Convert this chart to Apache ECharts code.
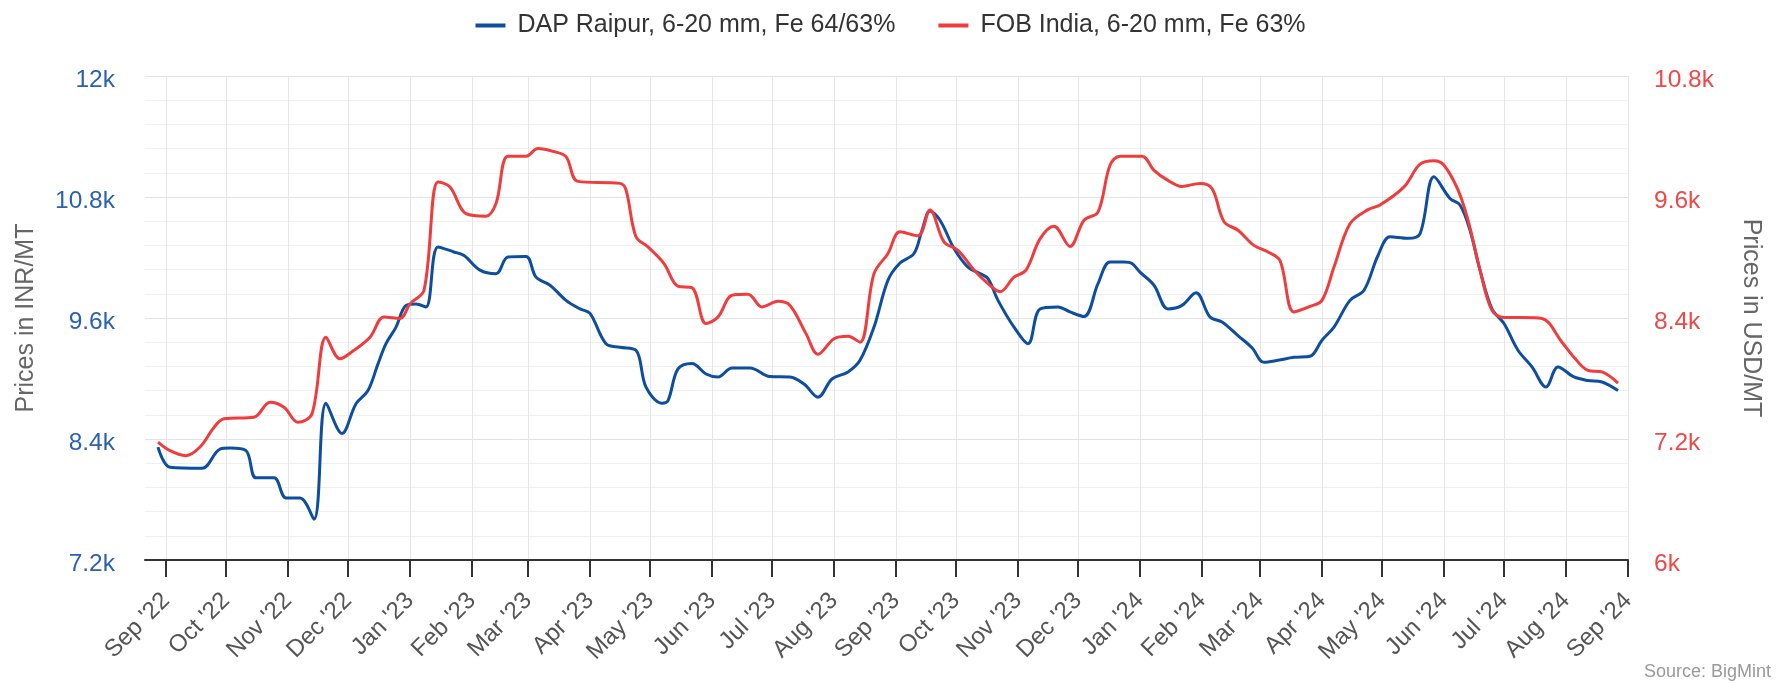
<!DOCTYPE html>
<html>
<head>
<meta charset="utf-8">
<title>DAP Raipur vs FOB India</title>
<script src="https://cdn.jsdelivr.net/npm/echarts@6/dist/echarts.min.js"></script>
<style>
  html, body { margin: 0; padding: 0; background: #fff; }
  #chart { width: 1781px; height: 684px; }
</style>
</head>
<body>
<div id="chart"></div>
<script>
// DAP Raipur, INR/MT (left axis)
const dapDates = ['2022-08-28','2022-09-03','2022-09-19','2022-09-28','2022-10-03','2022-10-11','2022-10-16','2022-10-25','2022-10-31',
  '2022-11-07','2022-11-14','2022-11-20','2022-11-28','2022-12-05','2022-12-11','2022-12-16','2022-12-20','2022-12-25','2022-12-30',
  '2023-01-04','2023-01-09','2023-01-15','2023-01-23','2023-01-28','2023-02-05','2023-02-13','2023-02-19','2023-02-28',
  '2023-03-05','2023-03-12','2023-03-20','2023-03-27','2023-04-01','2023-04-09','2023-04-16','2023-04-24','2023-04-29',
  '2023-05-07','2023-05-10','2023-05-15','2023-05-22','2023-05-29','2023-06-04','2023-06-11','2023-06-20','2023-06-30',
  '2023-07-10','2023-07-17','2023-07-24','2023-07-31','2023-08-08','2023-08-14','2023-08-21','2023-08-28',
  '2023-09-03','2023-09-10','2023-09-14','2023-09-18','2023-09-23','2023-09-30','2023-10-07','2023-10-13','2023-10-17','2023-10-22','2023-10-30',
  '2023-11-06','2023-11-12','2023-11-21','2023-11-27','2023-12-04','2023-12-11','2023-12-17','2023-12-24','2023-12-28',
  '2024-01-01','2024-01-08','2024-01-15','2024-01-22','2024-01-29','2024-02-05','2024-02-11','2024-02-19','2024-02-26',
  '2024-03-03','2024-03-10','2024-03-18','2024-03-26','2024-04-01','2024-04-07','2024-04-15','2024-04-22','2024-04-29',
  '2024-05-05','2024-05-14','2024-05-20','2024-05-27','2024-06-04','2024-06-09','2024-06-14','2024-06-19','2024-06-25',
  '2024-07-01','2024-07-08','2024-07-15','2024-07-22','2024-07-28','2024-08-05','2024-08-12','2024-08-19','2024-08-27'];
const dapValues = [8320, 8120, 8110, 8300, 8310, 8285, 8015, 8015, 7815,
  7815, 7605, 8755, 8455, 8750, 8880, 9145, 9345, 9510, 9725,
  9740, 9710, 10305, 10255, 10220, 10075, 10040, 10205, 10210,
  10005, 9925, 9775, 9690, 9645, 9345, 9310, 9280, 8915,
  8755, 8780, 9095, 9150, 9045, 9015, 9105, 9105, 9020,
  9015, 8945, 8815, 8995, 9065, 9180, 9510, 9975,
  10145, 10240, 10470, 10660, 10570, 10290, 10105, 10040, 9990, 9775, 9510,
  9345, 9690, 9710, 9660, 9615, 9940, 10155, 10155, 10140,
  10055, 9925, 9690, 9725, 9850, 9610, 9560, 9425, 9305,
  9160, 9180, 9210, 9220, 9380, 9510, 9775, 9875, 10220,
  10405, 10390, 10435, 11000, 10785, 10720, 10470, 10075, 9690,
  9545, 9280, 9115, 8915, 9115, 9015, 8980, 8965, 8880];

// FOB India, USD/MT (right axis)
const fobDates = ['2022-08-28','2022-09-03','2022-09-11','2022-09-18','2022-09-25','2022-09-30','2022-10-15','2022-10-23','2022-10-30',
  '2022-11-06','2022-11-13','2022-11-20','2022-11-27','2022-12-04','2022-12-12','2022-12-19','2022-12-27',
  '2023-01-01','2023-01-08','2023-01-15','2023-01-21','2023-01-29','2023-02-08','2023-02-13','2023-02-19','2023-02-28',
  '2023-03-06','2023-03-14','2023-03-20','2023-03-26','2023-04-16','2023-04-19','2023-04-24','2023-04-30',
  '2023-05-08','2023-05-15','2023-05-22','2023-05-29','2023-06-04','2023-06-11','2023-06-19','2023-06-26',
  '2023-07-04','2023-07-10','2023-07-18','2023-07-24','2023-08-01','2023-08-08','2023-08-14','2023-08-21','2023-08-28',
  '2023-09-03','2023-09-12','2023-09-18','2023-09-25','2023-10-02','2023-10-10','2023-10-17','2023-10-23','2023-10-30',
  '2023-11-05','2023-11-12','2023-11-19','2023-11-27','2023-12-04','2023-12-11','2023-12-17','2023-12-22',
  '2024-01-02','2024-01-08','2024-01-15','2024-01-22','2024-01-31','2024-02-06','2024-02-12','2024-02-19','2024-02-27',
  '2024-03-05','2024-03-11','2024-03-18','2024-03-26','2024-04-01','2024-04-07','2024-04-15','2024-04-24','2024-04-30',
  '2024-05-12','2024-05-20','2024-05-27','2024-06-01','2024-06-08','2024-06-13','2024-06-19','2024-06-25',
  '2024-07-01','2024-07-10','2024-07-20','2024-07-30','2024-08-05','2024-08-12','2024-08-19','2024-08-27'];
const fobValues = [7170, 7085, 7035, 7120, 7315, 7400, 7415, 7565, 7515,
  7365, 7450, 8210, 7995, 8080, 8210, 8410, 8395,
  8540, 8675, 9750, 9700, 9435, 9410, 9535, 10005, 10005,
  10080, 10050, 10000, 9755, 9735, 9670, 9205, 9105,
  8940, 8715, 8700, 8345, 8410, 8625, 8635, 8510,
  8565, 8525, 8245, 8040, 8195, 8220, 8160, 8840, 9040,
  9255, 9215, 9470, 9155, 9070, 8875, 8740, 8660, 8805,
  8875, 9185, 9310, 9110, 9370, 9450, 9915, 10005,
  10005, 9865, 9765, 9705, 9735, 9685, 9355, 9270, 9120,
  9055, 8970, 8460, 8515, 8575, 8905, 9335, 9475, 9520,
  9700, 9925, 9960, 9915, 9670, 9370, 8875, 8475,
  8405, 8405, 8395, 8160, 8010, 7880, 7865, 7755];

// month ticks on the x axis
const monthTicks = ['2022-09-01','2022-10-01','2022-11-01','2022-12-01','2023-01-01','2023-02-01','2023-03-01','2023-04-01',
  '2023-05-01','2023-06-01','2023-07-01','2023-08-01','2023-09-01','2023-10-01','2023-11-01','2023-12-01',
  '2024-01-01','2024-02-01','2024-03-01','2024-04-01','2024-05-01','2024-06-01','2024-07-01','2024-08-01','2024-09-01'];
const monthNames = ['Jan','Feb','Mar','Apr','May','Jun','Jul','Aug','Sep','Oct','Nov','Dec'];

const seriesNames = ['DAP Raipur, 6-20 mm, Fe 64/63%', 'FOB India, 6-20 mm, Fe 63%'];

const font = 'Liberation Sans, Arial, sans-serif';
const ts = d => Date.parse(d + 'T00:00:00Z');
const tickValues = monthTicks.map(ts);

const chart = echarts.init(document.getElementById('chart'));

const kLabel = v => (v / 1000) + 'k';

const option = {
  animation: false,
  textStyle: { fontFamily: font },
  legend: {
    top: 8,
    left: 'center',
    icon: 'rect',
    itemWidth: 30,
    itemHeight: 4,
    itemGap: 43,
    textStyle: { fontSize: 25, color: '#333', fontFamily: font, padding: [0, 0, 0, 7] },
    data: seriesNames
  },
  grid: { left: 145, right: 153, top: 76, bottom: 124, outerBoundsMode: 'none' },
  // time as a plain value axis (ms), month ticks placed by customValues
  xAxis: {
    type: 'value',
    min: Date.parse('2022-08-21T12:00:00Z'),
    max: Date.parse('2024-09-01T00:00:00Z'),
    axisLine: { lineStyle: { color: '#333', width: 2 } },
    axisTick: { show: true, length: 17, lineStyle: { color: '#333', width: 2 }, customValues: tickValues },
    axisLabel: {
      rotate: 45,
      margin: 37,
      fontSize: 24,
      color: '#555',
      fontFamily: font,
      customValues: tickValues,
      formatter: v => {
        const d = new Date(v);
        return monthNames[d.getUTCMonth()] + " '" + String(d.getUTCFullYear()).slice(2);
      }
    },
    splitLine: { show: true, lineStyle: { color: '#e6e6e6', width: 1 } }
  },
  yAxis: [
    {
      type: 'value',
      min: 7200, max: 12000, interval: 1200,
      name: 'Prices in INR/MT',
      nameLocation: 'middle',
      nameGap: 106,
      nameRotate: 90,
      nameTextStyle: { fontSize: 25, color: '#666', fontFamily: font },
      // labels sit a little below their grid line, as in the original
      axisLabel: { formatter: kLabel, fontSize: 24.5, color: '#2b62b0', margin: 30, verticalAlign: 'top', lineHeight: 9, fontFamily: font },
      axisLine: { show: false },
      axisTick: { show: false },
      splitLine: { lineStyle: { color: '#e3e3e3', width: 1 } },
      minorTick: { show: false, splitNumber: 5 },
      minorSplitLine: { show: true, lineStyle: { color: '#f0f0f0', width: 1 } }
    },
    {
      type: 'value',
      min: 6000, max: 10800, interval: 1200,
      position: 'right',
      name: 'Prices in USD/MT',
      nameLocation: 'middle',
      nameGap: 110,
      nameRotate: -90,
      nameTextStyle: { fontSize: 25, color: '#666', fontFamily: font },
      axisLabel: { formatter: kLabel, fontSize: 24.5, color: '#f04848', margin: 26, verticalAlign: 'top', lineHeight: 9, fontFamily: font },
      axisLine: { show: false },
      axisTick: { show: false },
      splitLine: { show: false }
    }
  ],
  graphic: [{
    type: 'text',
    right: 10,
    bottom: 3,
    style: { text: 'Source: BigMint', fontSize: 18, fill: '#999', fontFamily: font }
  }],
  series: [
    {
      name: seriesNames[0],
      type: 'line',
      yAxisIndex: 0,
      smooth: 0.35,
      showSymbol: false,
      color: '#0d4ea0',
      lineStyle: { width: 3 },
      data: dapDates.map((d, i) => [ts(d), dapValues[i]])
    },
    {
      name: seriesNames[1],
      type: 'line',
      yAxisIndex: 1,
      smooth: 0.35,
      showSymbol: false,
      color: '#f03c3c',
      lineStyle: { width: 3 },
      data: fobDates.map((d, i) => [ts(d), fobValues[i]])
    }
  ]
};

option && chart.setOption(option);
</script>
</body>
</html>
